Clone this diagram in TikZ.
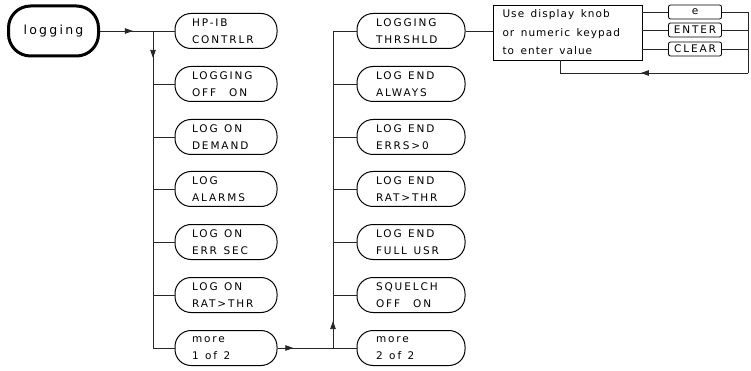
\documentclass[tikz,border=0pt]{standalone}
\usepackage{fontspec}
\setmainfont{DejaVu Sans}
\newfontfamily\plotfont[LetterSpace=18]{DejaVu Sans}
\newfontfamily\infofont[LetterSpace=10]{DejaVu Sans}
\newcommand{\gp}{\hspace{6.5pt}}
\usetikzlibrary{arrows.meta,decorations.markings}
\tikzset{
  conn/.style={line width=0.75pt, draw=black!85},
  midarrow/.style={postaction={decorate}, decoration={markings,
      mark=at position #1 with {\arrow{Triangle[length=8pt,width=5.5pt]}}}},
  mainbox/.style={draw, line width=3pt, rounded corners=22pt, minimum width=90pt,
      minimum height=50pt, font=\plotfont\fontsize{12.5}{13}\selectfont},
  menubox/.style={draw, line width=1pt, rounded corners=16pt, minimum height=35pt,
      inner xsep=0pt, inner ysep=1pt, align=left, font=\plotfont\fontsize{10.5}{17}\selectfont},
  colA/.style={menubox, minimum width=102pt, text width=68pt},
  colB/.style={menubox, minimum width=108pt, text width=70pt},
  keybox/.style={draw, line width=0.8pt, rounded corners=2pt, minimum width=53pt,
      minimum height=14pt, inner sep=0pt, font=\plotfont\fontsize{10.5}{10}\selectfont},
  infobox/.style={draw, line width=0.8pt, minimum width=149pt, minimum height=55pt,
      align=left, text width=130pt, inner xsep=9.5pt, font=\infofont\fontsize{10.5}{18.5}\selectfont}
}
\begin{document}
\begin{tikzpicture}[x=1pt,y=-1pt]
\useasboundingbox[fill=white] (0,0) rectangle (751,371);

\node[mainbox] (log) at (53.5,31) {logging};

\node[colA] (a1) at (226,31)  {HP-IB\\CONTRLR};
\node[colA] (a2) at (226,84)  {LOGGING\\OFF\gp\gp ON};
\node[colA] (a3) at (226,137) {LOG\gp ON\\DEMAND};
\node[colA] (a4) at (226,189) {LOG\\ALARMS};
\node[colA] (a5) at (226,242) {LOG\gp ON\\ERR\gp SEC};
\node[colA] (a6) at (226,295) {LOG\gp ON\\RAT>THR};
\node[colA] (a7) at (226,348) {more\\1\gp of\gp 2};

\node[colB] (b1) at (411,31)  {LOGGING\\THRSHLD};
\node[colB] (b2) at (411,84)  {LOG\gp END\\ALWAYS};
\node[colB] (b3) at (411,137) {LOG\gp END\\ERRS>0};
\node[colB] (b4) at (411,189) {LOG\gp END\\RAT>THR};
\node[colB] (b5) at (411,242) {LOG\gp END\\FULL\gp USR};
\node[colB] (b6) at (411,295) {SQUELCH\\OFF\gp\gp ON};
\node[colB] (b7) at (411,348) {more\\2\gp of\gp 2};

\node[infobox] (tb) at (567.5,32.5) {Use\gp display\gp knob\\or\gp numeric\gp keypad\\to\gp enter\gp value};
\node[keybox] (e)   at (695,12) {e};
\node[keybox] (ent) at (695,30) {ENTER};
\node[keybox] (clr) at (695,49) {CLEAR};

\coordinate (j1) at (153,31);
\coordinate (j2) at (333,348);
\coordinate (rb) at (748,73);
\coordinate (lb) at (560,73);

% column 1
\draw[conn, midarrow=0.62] (log.east) -- (j1);
\draw[conn] (j1) -- (a1.west);
\draw[conn, midarrow=0.085] (j1) -- (j1 |- a7.west);
\foreach \i in {2,...,7} { \draw[conn] (j1 |- a\i.west) -- (a\i.west); }

% to column 2
\draw[conn, midarrow=0.2] (a7.east) -- (b7.west);
\draw[conn, midarrow=0.085] (j2) -- (j2 |- b1.west);
\foreach \i in {1,...,6} { \draw[conn] (j2 |- b\i.west) -- (b\i.west); }

% threshold entry
\draw[conn] (b1.east) -- (b1.east -| tb.west);
\draw[conn] (tb.east |- e.west) -- (e.west);
\draw[conn] (tb.east |- ent.west) -- (ent.west);
\draw[conn] (tb.east |- clr.west) -- (clr.west);
\draw[conn] (e.east) -- (e.east -| rb) -- (rb);
\draw[conn] (ent.east) -- (ent.east -| rb);
\draw[conn] (clr.east) -- (clr.east -| rb);
\draw[conn, midarrow=0.57] (rb) -- (lb);
\draw[conn] (lb) -- (lb |- tb.south);
\end{tikzpicture}
\end{document}
